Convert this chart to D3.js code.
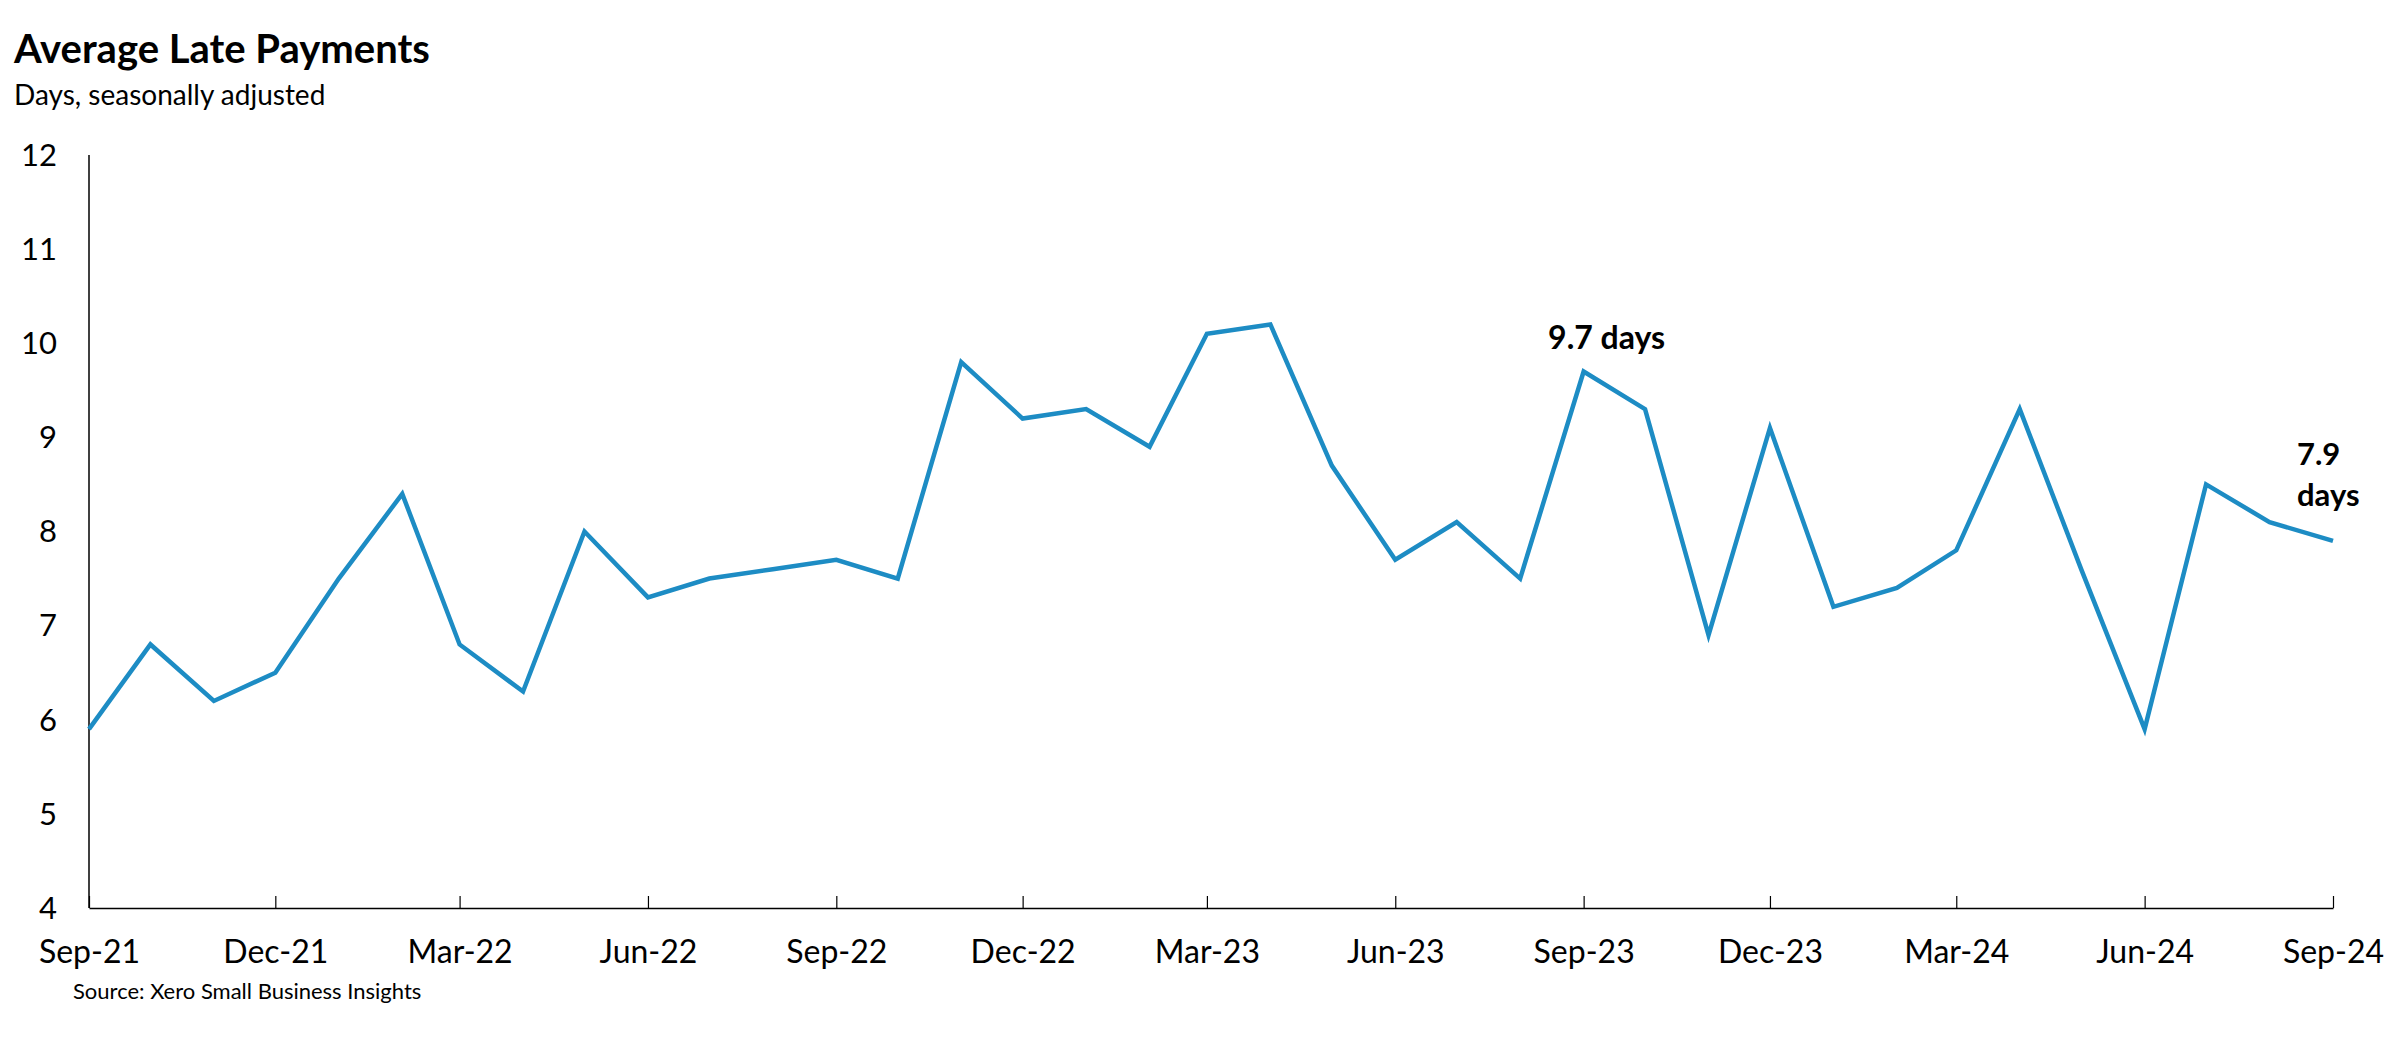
<!DOCTYPE html>
<html>
<head>
<meta charset="utf-8">
<script src="https://cdn.jsdelivr.net/npm/d3@7"></script>
<style>
  html, body { margin: 0; padding: 0; background: #ffffff; }
  svg { display: block; }
  text { font-family: Lato, "Open Sans", sans-serif; fill: #000; }
</style>
</head>
<body>
<script>
// ---- Data ----
const months = [
  "2021-09","2021-10","2021-11","2021-12","2022-01","2022-02","2022-03","2022-04","2022-05","2022-06",
  "2022-07","2022-08","2022-09","2022-10","2022-11","2022-12","2023-01","2023-02","2023-03","2023-04",
  "2023-05","2023-06","2023-07","2023-08","2023-09","2023-10","2023-11","2023-12","2024-01","2024-02",
  "2024-03","2024-04","2024-05","2024-06","2024-07","2024-08","2024-09"
];
const lateDays = [
  5.9, 6.8, 6.2, 6.5, 7.5, 8.4, 6.8, 6.3, 8.0, 7.3,
  7.5, 7.6, 7.7, 7.5, 9.8, 9.2, 9.3, 8.9, 10.1, 10.2,
  8.7, 7.7, 8.1, 7.5, 9.7, 9.3, 6.9, 9.1, 7.2, 7.4,
  7.8, 9.3, 7.6, 5.9, 8.5, 8.1, 7.9
];
const xTickMonths = ["2021-09","2021-12","2022-03","2022-06","2022-09","2022-12","2023-03","2023-06","2023-09","2023-12","2024-03","2024-06","2024-09"];
const xTickLabels = ["Sep-21","Dec-21","Mar-22","Jun-22","Sep-22","Dec-22","Mar-23","Jun-23","Sep-23","Dec-23","Mar-24","Jun-24","Sep-24"];
const yTicks = [4, 5, 6, 7, 8, 9, 10, 11, 12];
const titleText = "Average Late Payments";
const subtitleText = "Days, seasonally adjusted";
const sourceText = "Source: Xero Small Business Insights";
const annotations = [
  { month: "2023-09", lines: ["9.7 days"] },
  { month: "2024-09", lines: ["7.9", "days"] }
];

// ---- Layout ----
const W = 2400, H = 1037;
const parse = d3.timeParse("%Y-%m");
const data = months.map((m, i) => ({ date: parse(m), value: lateDays[i] }));

const x = d3.scaleTime()
  .domain([parse(months[0]), parse(months[months.length - 1])])
  .range([89, 2333]);
const y = d3.scaleLinear().domain([4, 12]).range([908, 155]);

const svg = d3.select("body").append("svg").attr("width", W).attr("height", H);

// Title & subtitle
svg.append("text").attr("x", 14).attr("y", 63)
  .style("font-size", "40px").style("font-weight", "700").text(titleText);
svg.append("text").attr("x", 14).attr("y", 105)
  .style("font-size", "28px").text(subtitleText);

// Y axis line (no ticks)
svg.append("line").attr("x1", x.range()[0]).attr("x2", x.range()[0])
  .attr("y1", y(12)).attr("y2", y(4)).attr("stroke", "#000").attr("stroke-width", 1.5);

// Y tick labels
svg.append("g").selectAll("text").data(yTicks).join("text")
  .attr("x", 57).attr("y", d => y(d)).attr("dy", "0.35em")
  .attr("text-anchor", "end").style("font-size", "31px").text(d => d);

// X axis
const xAxis = d3.axisBottom(x)
  .tickValues(xTickMonths.map(parse))
  .tickFormat((d, i) => xTickLabels[i])
  .tickSizeInner(-12).tickSizeOuter(0).tickPadding(32);
const gx = svg.append("g").attr("transform", `translate(0,${y(4)})`).call(xAxis);
gx.select(".domain").attr("stroke", "#000").attr("stroke-width", 1.5);
gx.selectAll(".tick line").attr("stroke", "#000").attr("stroke-width", 1.2);
gx.selectAll(".tick text")
  .style("font-family", "Lato, sans-serif").style("font-size", "32px").attr("fill", "#000");

// Line
const line = d3.line().x(d => x(d.date)).y(d => y(d.value));
svg.append("path").datum(data)
  .attr("fill", "none").attr("stroke", "#1d8cc4").attr("stroke-width", 4.5)
  .attr("stroke-linejoin", "miter").attr("d", line);

// Annotations
const ann1 = annotations[0];
svg.append("text")
  .attr("x", x(parse(ann1.month)) + 23)
  .attr("y", y(lateDays[months.indexOf(ann1.month)]) - 22)
  .attr("text-anchor", "middle")
  .style("font-size", "32px").style("font-weight", "700")
  .text(ann1.lines[0]);

const ann2 = annotations[1];
const a2 = svg.append("text")
  .attr("x", x(parse(ann2.month)) - 36)
  .attr("y", y(lateDays[months.indexOf(ann2.month)]) - 76)
  .style("font-size", "31px").style("font-weight", "700");
ann2.lines.forEach((l, i) => {
  a2.append("tspan").attr("x", x(parse(ann2.month)) - 36).attr("dy", i === 0 ? 0 : 41).text(l);
});

// Source
svg.append("text").attr("x", 73).attr("y", 999)
  .style("font-size", "22px").text(sourceText);
</script>
</body>
</html>
